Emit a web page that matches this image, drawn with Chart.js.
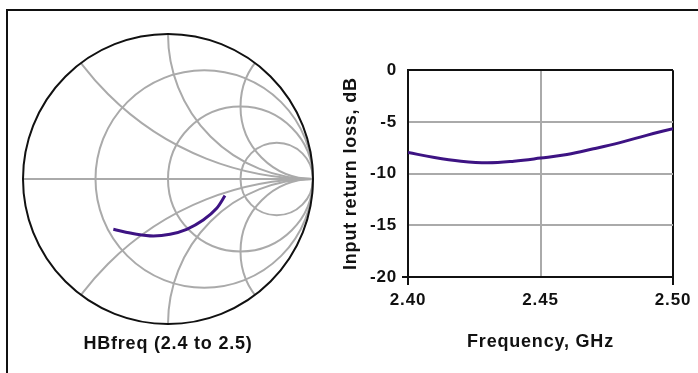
<!DOCTYPE html>
<html>
<head>
<meta charset="utf-8">
<script src="https://cdn.jsdelivr.net/npm/chart.js@4.4.1/dist/chart.umd.min.js"></script>
<style>
  body { margin: 0; background: #fff; }
  #frame { position: absolute; left: 6px; top: 9px; width: 692px; height: 364px;
           border-top: 2px solid #111; border-left: 2px solid #111; }
  #smith { position: absolute; left: 18px; top: 29px; width: 300px; height: 344px; }
  #rl { position: absolute; left: 330px; top: 55px; width: 368px; height: 318px; }
</style>
</head>
<body>
<div id="frame"></div>
<div id="smith"><canvas id="smithChart"></canvas></div>
<div id="rl"><canvas id="rlChart"></canvas></div>
<script>
// return loss vs frequency
const freqs = [2.40, 2.41, 2.42, 2.43, 2.44, 2.45, 2.46, 2.47, 2.48, 2.49, 2.50];
const returnLoss = [-7.95, -8.45, -8.8, -8.95, -8.8, -8.5, -8.15, -7.6, -7.0, -6.3, -5.65];

// reflection coefficient on the smith chart, 2.4 -> 2.5 GHz
const gammaRe = [0.393, 0.336, 0.243, 0.129, 0.014, -0.101, -0.216, -0.377];
const gammaIm = [-0.115, -0.202, -0.283, -0.347, -0.381, -0.393, -0.381, -0.347];

// smith grid
const resistanceCircles = [1 / 3, 1, 3];
const reactanceArcs = [0.5, 1, 2];

const curveColor = '#3d1383';
const gridGray = '#aaaaaa';
const ink = '#111111';
const tickFont = { family: 'Liberation Sans', weight: 'bold', size: 17 };
const titleFont = { family: 'Liberation Sans', weight: 'bold', size: 18 };

// the original lettering is a wide helvetica, so open it up a little
const wideText = {
  id: 'wideText',
  beforeLayout(chart) { chart.ctx.letterSpacing = '0.8px'; },
  beforeDraw(chart) { chart.ctx.letterSpacing = '0.8px'; }
};
Chart.register(wideText);

const smithGrid = {
  id: 'smithGrid',
  beforeDatasetsDraw(chart) {
    const { ctx, scales: { x, y } } = chart;
    const px = u => x.getPixelForValue(u);
    const py = v => y.getPixelForValue(v);
    const R = px(1) - px(0);
    ctx.save();
    ctx.strokeStyle = gridGray;
    ctx.lineWidth = 2;
    ctx.beginPath();
    ctx.moveTo(px(-1), py(0));
    ctx.lineTo(px(1), py(0));
    ctx.stroke();
    resistanceCircles.forEach(r => {
      ctx.beginPath();
      ctx.arc(px(r / (r + 1)), py(0), R / (r + 1), 0, 2 * Math.PI);
      ctx.stroke();
    });
    ctx.save();
    ctx.beginPath();
    ctx.arc(px(0), py(0), R, 0, 2 * Math.PI);
    ctx.clip();
    reactanceArcs.forEach(xv => {
      [xv, -xv].forEach(s => {
        ctx.beginPath();
        ctx.arc(px(1), py(1 / s), R / Math.abs(s), 0, 2 * Math.PI);
        ctx.stroke();
      });
    });
    ctx.restore();
    ctx.strokeStyle = ink;
    ctx.lineWidth = 2;
    ctx.beginPath();
    ctx.arc(px(0), py(0), R, 0, 2 * Math.PI);
    ctx.stroke();
    ctx.restore();
  }
};

new Chart(document.getElementById('smithChart'), {
  type: 'scatter',
  data: {
    datasets: [{
      data: gammaRe.map((u, i) => ({ x: u, y: gammaIm[i] })),
      showLine: true,
      borderColor: curveColor,
      borderWidth: 3,
      pointRadius: 0,
      tension: 0.3
    }]
  },
  options: {
    responsive: true,
    maintainAspectRatio: false,
    animation: false,
    layout: { padding: { left: 5, right: 5, top: 5, bottom: 0 } },
    plugins: { legend: { display: false }, tooltip: { enabled: false } },
    scales: {
      x: {
        min: -1, max: 1,
        afterFit: s => { s.height = 49; },
        ticks: { display: false },
        grid: { display: false },
        border: { display: false },
        title: { display: true, text: 'HBfreq (2.4 to 2.5)', font: titleFont, color: ink,
                 padding: { top: 0, bottom: 18 } }
      },
      y: { display: false, min: -1, max: 1 }
    }
  },
  plugins: [smithGrid]
});

const isEdge = (v, a, b) => Math.abs(v - a) < 1e-6 || Math.abs(v - b) < 1e-6;

new Chart(document.getElementById('rlChart'), {
  type: 'line',
  data: {
    datasets: [{
      data: freqs.map((f, i) => ({ x: f, y: returnLoss[i] })),
      borderColor: curveColor,
      borderWidth: 3,
      pointRadius: 0,
      tension: 0.4,
      fill: false
    }]
  },
  options: {
    responsive: true,
    maintainAspectRatio: false,
    animation: false,
    layout: { padding: { top: 13, right: 25, left: 0, bottom: 0 } },
    plugins: { legend: { display: false }, tooltip: { enabled: false } },
    scales: {
      x: {
        type: 'linear', min: 2.4, max: 2.5,
        afterFit: s => { s.height = 96; },
        ticks: { stepSize: 0.05, callback: v => v.toFixed(2), font: tickFont, color: ink, padding: 5, maxRotation: 0 },
        grid: {
          lineWidth: 2, tickLength: 8, tickWidth: 2,
          color: c => isEdge(c.tick.value, 2.4, 2.5) ? ink : gridGray,
          tickColor: c => isEdge(c.tick.value, 2.4, 2.5) ? ink : 'rgba(0,0,0,0)'
        },
        border: { color: ink, width: 2 },
        title: { display: true, text: 'Frequency, GHz', font: titleFont, color: ink, padding: { top: 0, bottom: 20 } }
      },
      y: {
        min: -20, max: 0,
        afterFit: s => { s.width = 78; },
        ticks: { stepSize: 5, font: tickFont, color: ink, padding: 5 },
        grid: {
          lineWidth: 2, tickLength: 6, tickWidth: 2,
          color: c => isEdge(c.tick.value, 0, 0) ? ink : gridGray,
          tickColor: c => isEdge(c.tick.value, -20, -20) ? ink : 'rgba(0,0,0,0)'
        },
        border: { color: ink, width: 2 },
        title: { display: true, text: 'Input return loss, dB', font: titleFont, color: ink, padding: { top: 10, bottom: 0 } }
      }
    }
  }
});
</script>
</body>
</html>
